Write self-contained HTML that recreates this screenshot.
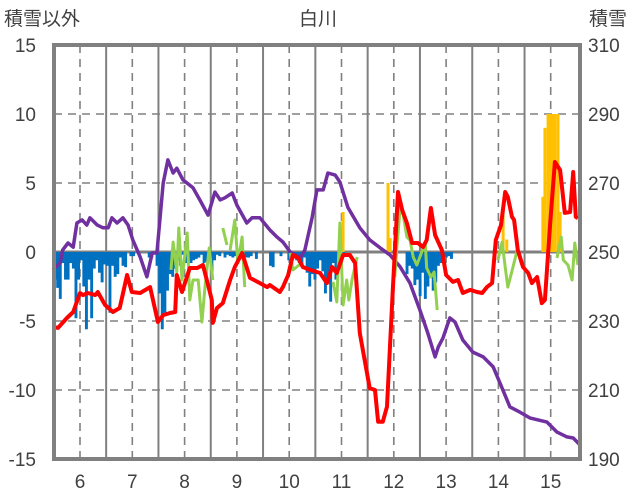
<!DOCTYPE html>
<html><head><meta charset="utf-8">
<style>
html,body{margin:0;padding:0;background:#fff;}
svg{display:block;font-family:"Liberation Sans","Noto Sans CJK JP",sans-serif;}
</style></head>
<body>
<svg id="chart" width="636" height="501" viewBox="0 0 636 501" xmlns="http://www.w3.org/2000/svg">
<text x="4" y="25" font-size="19" fill="#404040">積雪以外</text>
<text x="318" y="25" font-size="19" fill="#404040" text-anchor="middle">白川</text>
<text x="589" y="25" font-size="19" fill="#404040">積雪</text>
<g id="grid"></g>
<g id="bars"></g>
<g id="lines"></g>
<g id="axes"></g>
</svg>
<script>
const xTicks=[6,7,8,9,10,11,12,13,14,15];
const yTicksLeft=[15,10,5,0,-5,-10,-15];
const yTicksRight=[310,290,270,250,230,210,190];
const blueStart1=5.52, blueStart2=9.59, blueStart3=12.10, blueStep=0.05;
const blue1=[-2.0,-2.6,-3.4,-0.8,-2.0,-2.0,-0.8,-1.2,-4.8,-2.0,-0.6,-2.5,-5.6,-2.0,-4.8,-1.2,-0.6,-1.5,-2.2,-0.9,-1.0,-4.4,-1.0,-1.8,-1.6,-0.4,-1.0,-1.1,0,-0.3,-0.3,0,0,0,0,0,-0.4,-0.4,0,-1.0,-3.0,-5.6,-4.4,-2.8,-1.6,-1.8,-1.2,-0.6,-1.0,-0.2,-0.8,-0.4,-0.8,-0.6,-0.5,-0.4,-0.2,-0.8,-0.7,-0.6,-1.6,-0.6,-0.2,-0.3,0,-0.4,-0.2,-0.3,-0.4,-0.3,-0.5,-0.4,0,-0.4,-0.4,-0.3,0,-0.5];
const blue2=[0,-1.0,-1.1,0,0,-0.3,0,0,-0.6,0,-0.4,-0.6,-0.8,-1.0,-0.4,-1.5,-2.5,-1.6,-2.0,-1.2,-0.6,-1.4,-3.0,-2.3,-3.6,-0.8,-2.0,-0.5,-0.3,-0.2];
const blue3=[0,0,0,-1.6,-1.0,-1.2,-2.4,-2.0,-3.2,-1.5,-3.4,-2.5,-1.8,-2.8,-2.2,-1.0,-0.8,-0.5,-0.4,-0.3,-0.5,0];
const yellowDays=[11.03,11.89,11.93,14.09,14.16,14.85,14.89,14.95,14.99,15.04,15.08,15.14,15.18];
const yellowVals=[2.9,5.0,1.0,2.9,0.9,4.0,9.0,10,10,10,10,10,2.9];
const redDays=[5.48,5.58,5.75,5.87,6.0,6.06,6.15,6.29,6.34,6.48,6.63,6.76,6.9,6.99,7.15,7.34,7.49,7.59,7.72,7.82,7.85,7.95,8.1,8.24,8.35,8.45,8.52,8.54,8.62,8.73,8.87,8.96,9.1,9.25,9.44,9.58,9.63,9.82,9.88,9.98,10.07,10.17,10.26,10.4,10.59,10.72,10.82,10.91,11.03,11.16,11.26,11.35,11.54,11.64,11.7,11.79,11.87,11.98,12.08,12.16,12.25,12.35,12.46,12.56,12.63,12.71,12.79,12.92,13.0,13.13,13.23,13.32,13.46,13.59,13.69,13.78,13.88,13.95,14.05,14.13,14.18,14.26,14.3,14.37,14.47,14.57,14.64,14.74,14.83,14.89,14.99,15.08,15.18,15.27,15.37,15.43,15.48,15.52];
const redVals=[-5.43,-5.5,-4.78,-4.35,-2.97,-3.12,-2.97,-3.12,-2.9,-3.84,-4.35,-4.06,-1.67,-2.9,-2.97,-2.54,-5.07,-4.57,-4.42,-4.35,-1.67,-2.9,-1.16,-1.16,-0.94,-2.39,-3.48,-5.14,-4.06,-3.7,-2.03,-1.09,-0.07,-1.88,-2.25,-2.54,-2.39,-2.9,-2.54,-1.67,-0.22,-0.43,-1.09,-1.3,-1.52,-2.25,-1.09,-1.52,-0.22,-0.22,-0.8,-5.87,-9.86,-10.0,-12.3,-12.3,-11.2,-2.75,4.35,3.04,2.1,0.65,0.65,0.36,0.87,3.19,1.23,0.14,-1.67,-2.17,-2.03,-2.97,-2.75,-2.9,-2.97,-2.54,-2.25,0.87,1.96,4.35,3.99,2.54,2.32,0.14,-1.09,-1.52,-2.25,-1.81,-3.7,-3.48,2.1,6.52,5.94,2.83,2.9,5.8,2.54,2.46];
const snowDays=[5.48,5.62,5.67,5.77,5.87,5.94,6.04,6.13,6.19,6.33,6.44,6.54,6.61,6.71,6.82,6.92,7.01,7.15,7.28,7.38,7.47,7.59,7.68,7.78,7.85,7.97,8.16,8.29,8.45,8.58,8.68,8.77,8.91,9.0,9.19,9.29,9.44,9.63,9.77,9.88,10.02,10.21,10.3,10.44,10.53,10.65,10.74,10.88,10.97,11.12,11.35,11.54,11.74,11.93,12.12,12.31,12.5,12.65,12.79,12.85,12.94,13.07,13.17,13.32,13.51,13.71,13.9,14.03,14.22,14.41,14.6,14.93,15.12,15.31,15.43,15.56];
const snowVals=[244.8,246.8,250.6,252.6,251.4,258.4,259.3,257.8,259.9,257.8,257.0,257.0,259.9,258.4,259.9,257.8,253.5,248.6,242.8,249.7,249.7,270.0,276.7,272.9,274.3,270.9,268.6,265.1,260.7,267.4,265.1,265.7,267.1,263.6,258.4,259.9,259.9,256.4,254.3,252.9,250.0,248.3,250.6,260.1,268.0,268.0,272.9,272.3,270.3,263.0,257.0,253.5,251.2,249.1,245.7,241.0,233.2,226.5,219.6,222.5,225.1,230.9,229.7,224.5,221.0,219.6,216.7,212.0,205.1,203.6,201.9,200.7,197.8,196.4,196.1,194.1];
const greenDays=[7.74,7.78,7.85,7.89,7.95,8.05,8.1,8.16,8.26,8.33,8.39,8.47,8.54,null,8.73,8.81,null,8.87,8.96,9.02,9.1,9.15,null,10.02,10.07,10.24,null,10.84,10.91,10.97,11.03,11.1,11.14,11.2,11.3,null,12.02,12.06,12.12,12.18,12.25,12.31,12.37,12.44,12.5,12.6,12.63,12.71,12.77,12.83,null,13.99,14.07,14.13,14.18,14.28,14.36,null,15.12,15.2,15.24,15.33,15.41,15.46,15.52];
const greenVals=[-1.3,0.72,-1.45,1.74,-2.03,1.38,-3.48,-2.03,-2.03,-5.07,-2.54,0.29,-2.03,null,1.74,0.51,null,0.14,2.32,-0.8,1.09,-2.54,null,-0.07,-1.3,-0.8,null,-2.17,-3.62,2.1,-3.84,-2.03,-3.48,-2.03,-0.36,null,-1.81,0.36,3.19,2.68,1.09,0.87,-0.36,-0.94,-0.36,0.72,-1.16,-1.81,-1.45,-4.2,null,-0.58,0.72,-1.09,-2.54,-1.09,0.14,null,-0.43,1.09,-0.58,-0.94,-2.03,0.65,-0.94];

const L=54,R=580,T=45,B=459;
const xs=d=>80+(d-6)*52.3;
const yl=v=>252-v*13.8;
const yr=s=>252-(s-250)*3.45;
const NS="http://www.w3.org/2000/svg";
function mk(tag,parent,attrs){const e=document.createElementNS(NS,tag);for(const k in attrs)e.setAttribute(k,attrs[k]);parent.appendChild(e);return e;}
const grid=document.getElementById('grid'),bars=document.getElementById('bars'),lines=document.getElementById('lines'),axes=document.getElementById('axes');
yTicksLeft.forEach(v=>{if(v===15||v===-15||v===0)return;
 const g=mk('line',grid,{x1:L,x2:R,y1:yl(v),y2:yl(v),stroke:'#808080','stroke-width':1.6,'stroke-dasharray':'8,6'});
 
 });
xTicks.forEach(d=>{
 const g=mk('line',grid,{x1:xs(d),x2:xs(d),y1:T,y2:B,stroke:'#808080','stroke-width':1.6,'stroke-dasharray':'8,6'});
 
 
 if(d<15){const s=mk('line',grid,{x1:xs(d+0.5),x2:xs(d+0.5),y1:T,y2:B,stroke:'#808080','stroke-width':2});
 
 }
 const t=mk('text',axes,{x:xs(d),y:488,'font-size':19,fill:'#404040','text-anchor':'middle'});t.textContent=d;
 
 
});
yTicksLeft.forEach(v=>{const t=mk('text',axes,{x:36,y:yl(v)+7,'font-size':19,fill:'#404040','text-anchor':'end'});t.textContent=v;
 
 });
yTicksRight.forEach(v=>{const t=mk('text',axes,{x:588,y:yr(v)+7,'font-size':19,fill:'#404040'});t.textContent=v;
 
 });
const bw=blueStep*52.3;
function drawBlue(start,arr){arr.forEach((v,i)=>{if(!v)return;const x=xs(start+i*blueStep);
 const r=mk('rect',bars,{x:x-bw/2,y:yl(0),width:bw+0.3,height:yl(v)-yl(0),fill:'#0070C0'});
 
 });}
drawBlue(blueStart1,blue1);drawBlue(blueStart2,blue2);drawBlue(blueStart3,blue3);
yellowDays.forEach((d,i)=>{const v=yellowVals[i];
 const r=mk('rect',bars,{x:xs(d)-1.5,y:yl(v),width:3,height:yl(0)-yl(v),fill:'#FFC000'});
 
 });
const zl=mk('line',grid,{x1:L,x2:R,y1:yl(0),y2:yl(0),stroke:'#808080','stroke-width':3});


function path(days,vals,yf){let d='',pen=false;days.forEach((x,i)=>{if(x===null){pen=false;return;}d+=(pen?'L':'M')+xs(x).toFixed(1)+' '+yf(vals[i]).toFixed(1);pen=true;});return d;}
const pS=mk('path',lines,{d:path(snowDays,snowVals,yr),fill:'none',stroke:'#7030A0','stroke-width':3.5,'stroke-linejoin':'round'});


const pG=mk('path',lines,{d:path(greenDays,greenVals,yl),fill:'none',stroke:'#92D050','stroke-width':3,'stroke-linejoin':'round'});


const pR=mk('path',lines,{d:path(redDays,redVals,yl),fill:'none',stroke:'#FF0000','stroke-width':4,'stroke-linejoin':'round'});


const fr=mk('rect',axes,{x:L,y:T,width:R-L,height:B-T,fill:'none',stroke:'#808080','stroke-width':4});


</script>
</body></html>
